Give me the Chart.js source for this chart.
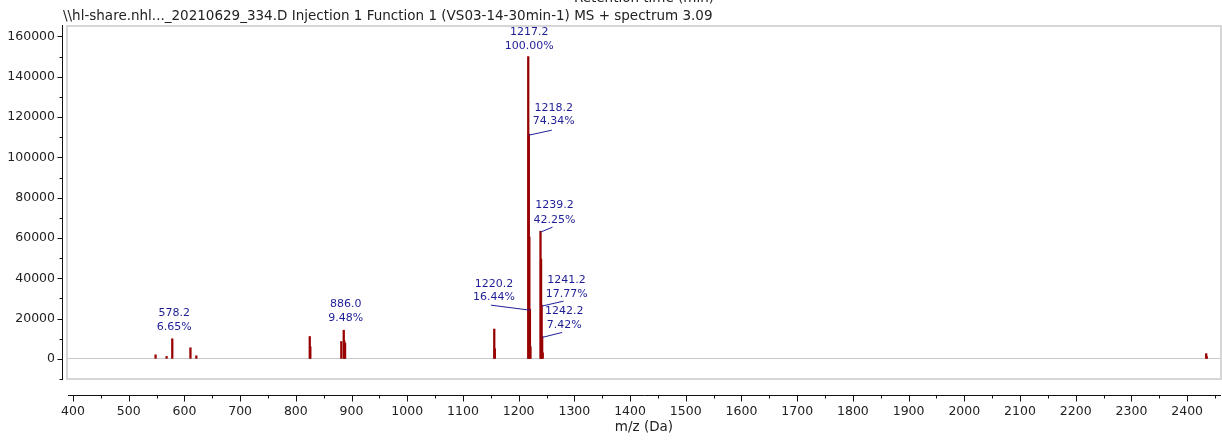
<!DOCTYPE html>
<html>
<head>
<meta charset="utf-8">
<script src="https://cdn.jsdelivr.net/npm/chart.js@4"></script>
<style>
  body { margin: 0; background: #fff; }
  canvas { display: block; }
</style>
</head>
<body>
<canvas id="ms-chart" width="1222" height="443"></canvas>
<script>
// peak list
const mzValues = [548.2, 568.0, 578.2, 610.8, 621.4, 825.0, 826.0, 881.6, 886.0, 887.0, 888.4,
  1156.2, 1157.2, 1217.2, 1218.2, 1219.2, 1220.2, 1221.2, 1239.2, 1240.2, 1241.2, 1242.2, 1243.2,
  2434.2, 2435.2];
const intensities = [2000, 1200, 9975, 5500, 1500, 11100, 6000, 8600, 14220, 9000, 7800,
  14800, 5000, 150000, 111510, 60500, 24660, 6000, 63375, 49500, 26655, 11130, 3000,
  2600, 1200];

// annotated peaks
const labelMz = [578.2, 886.0, 1217.2, 1218.2, 1220.2, 1239.2, 1241.2, 1242.2];
const labelText = ['578.2', '886.0', '1217.2', '1218.2', '1220.2', '1239.2', '1241.2', '1242.2'];
const labelPct = ['6.65%', '9.48%', '100.00%', '74.34%', '16.44%', '42.25%', '17.77%', '7.42%'];

const xTicks = [400, 500, 600, 700, 800, 900, 1000, 1100, 1200, 1300, 1400, 1500, 1600, 1700,
  1800, 1900, 2000, 2100, 2200, 2300, 2400];
const yTicks = [0, 20000, 40000, 60000, 80000, 100000, 120000, 140000, 160000];

const titleText = '\\\\hl-share.nhl..._20210629_334.D Injection 1 Function 1 (VS03-14-30min-1) MS + spectrum 3.09';

// where each label sits relative to its peak top: text dx, line offsets, leader end (or null)
const labelLayout = [
  { dx: 2, dy: [-26, -12], leader: null },
  { dx: 2, dy: [-26, -12], leader: null },
  { dx: 1, dy: [-24, -10], leader: null },
  { dx: 25, dy: [-26, -13], leader: [23, -4] },
  { dx: -36, dy: [-25, -12], leader: [-39, -4] },
  { dx: 14, dy: [-26, -11], leader: [12, -4] },
  { dx: 25, dy: [-25, -11], leader: [22, -4] },
  { dx: 22, dy: [-25, -11], leader: [20, -4] }
];

const FONT = '"DejaVu Sans", Verdana, sans-serif';

const decorPlugin = {
  id: 'decor',
  beforeDatasetsDraw(chart) {
    const { ctx, chartArea: a } = chart;
    ctx.save();
    ctx.strokeStyle = '#d6d6d6';
    ctx.lineWidth = 2;
    ctx.strokeRect(a.left - 1, a.top - 1, a.right - a.left + 2, a.bottom - a.top + 2);
    ctx.restore();
  },
  afterDraw(chart) {
    const { ctx, chartArea: a } = chart;
    const xs = chart.scales.x, ys = chart.scales.y;
    ctx.save();
    ctx.strokeStyle = '#111';
    ctx.lineWidth = 1;

    // y axis line + ticks
    const ax = Math.round(a.left - 6) + 0.5;
    ctx.beginPath();
    ctx.moveTo(ax, a.top - 2);
    ctx.lineTo(ax, a.bottom + 2);
    for (let v = -10000; v <= 160000; v += 10000) {
      const py = Math.round(ys.getPixelForValue(v)) + 0.5;
      const len = v % 20000 === 0 ? 5 : 3;
      ctx.moveTo(ax, py);
      ctx.lineTo(ax - len, py);
    }
    ctx.stroke();

    // x axis line + ticks
    const ay = Math.round(a.bottom + 17) + 0.5;
    ctx.beginPath();
    ctx.moveTo(a.left, ay);
    ctx.lineTo(a.right + 1, ay);
    for (let v = 400; v <= 2450; v += 50) {
      const px = Math.round(xs.getPixelForValue(v)) + 0.5;
      const len = v % 100 === 0 ? 6 : 3;
      ctx.moveTo(px, ay);
      ctx.lineTo(px, ay + len);
    }
    ctx.stroke();

    // titles
    ctx.fillStyle = '#222';
    ctx.font = '13.5px ' + FONT;
    ctx.textBaseline = 'middle';
    ctx.textAlign = 'left';
    ctx.fillText(titleText, 63, 16);
    ctx.textAlign = 'center';
    const cx = (a.left + a.right) / 2;
    ctx.fillText('Retention time (min)', cx, -2);
    ctx.fillText('m/z (Da)', cx, 427);

    // peak annotations
    ctx.fillStyle = '#1e1e96';
    ctx.strokeStyle = '#1e1e96';
    ctx.font = '11px ' + FONT;
    labelMz.forEach((m, i) => {
      const idx = mzValues.indexOf(m);
      const px = xs.getPixelForValue(m);
      const py = ys.getPixelForValue(intensities[idx]);
      const lay = labelLayout[i];
      ctx.fillText(labelText[i], px + lay.dx, py + lay.dy[0]);
      ctx.fillText(labelPct[i], px + lay.dx, py + lay.dy[1]);
      if (lay.leader) {
        ctx.beginPath();
        ctx.moveTo(px, py + 1);
        ctx.lineTo(px + lay.leader[0], py + lay.leader[1]);
        ctx.stroke();
      }
    });
    ctx.restore();
  }
};

new Chart(document.getElementById('ms-chart'), {
  type: 'bar',
  data: {
    datasets: [{
      data: mzValues.map((m, i) => ({ x: m, y: intensities[i] })),
      backgroundColor: '#980000',
      borderWidth: 0,
      barThickness: 1.6,
      grouped: false
    }]
  },
  options: {
    responsive: false,
    animation: false,
    layout: { padding: { top: 27, right: 2, left: 0, bottom: 0 } },
    plugins: {
      legend: { display: false },
      tooltip: { enabled: false }
    },
    scales: {
      x: {
        type: 'linear',
        offset: false,
        min: 391,
        max: 2459,
        afterBuildTicks: s => { s.ticks = xTicks.map(v => ({ value: v })); },
        afterFit: s => { s.height = 65; s.paddingLeft = 0; s.paddingRight = 0; },
        grid: { display: false, drawTicks: false, offset: false },
        border: { display: false },
        ticks: {
          padding: 26,
          maxRotation: 0,
          autoSkip: false,
          color: '#222',
          font: { family: FONT, size: 12.5 },
          callback: v => String(v)
        }
      },
      y: {
        min: -9500,
        max: 164700,
        afterBuildTicks: s => { s.ticks = yTicks.map(v => ({ value: v })); },
        afterFit: s => { s.width = 68; s.paddingTop = 0; s.paddingBottom = 0; },
        grid: {
          drawTicks: false,
          color: c => (c.tick && c.tick.value === 0 ? '#c8c8c8' : 'rgba(0,0,0,0)')
        },
        border: { display: false },
        ticks: {
          padding: 13,
          color: '#222',
          font: { family: FONT, size: 12.5 },
          callback: v => String(v)
        }
      }
    }
  },
  plugins: [decorPlugin]
});
</script>
</body>
</html>
